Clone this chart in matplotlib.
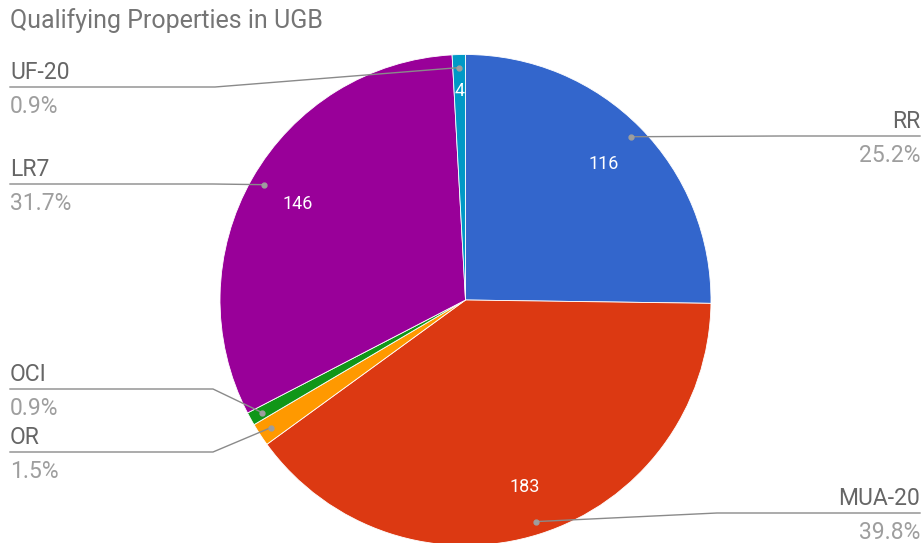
import numpy as np
import matplotlib.pyplot as plt

plt.rcParams['font.family'] = ['Roboto', 'DejaVu Sans']

title = 'Qualifying Properties in UGB'
names = ['RR', 'MUA-20', 'OR', 'OCI', 'LR7', 'UF-20']
counts = [116, 183, 7, 4, 146, 4]
colors = ['#3366cc', '#dc3912', '#ff9900', '#109618', '#990099', '#0099c6']

# label layout (pixels): side, y of leader line, elbow x, inside-label radius (None = hidden)
side = ['right', 'right', 'left', 'left', 'left', 'left']
line_y = [136, 513, 452, 389, 184, 87]
elbow_x = [780, 717, 213, 213, 213, 215]
inner_r = [0.79, 0.80, None, None, 0.786, 0.85]

W, H = 923, 543
fig = plt.figure(figsize=(W / 100, H / 100), dpi=100)

cx, cy, R = 465.5, 300, 245.5
ax = fig.add_axes([(cx - R) / W, (H - cy - R) / H, 2 * R / W, 2 * R / H])
wedges, _ = ax.pie(counts, colors=colors, startangle=90, counterclock=False,
                   radius=1, wedgeprops=dict(linewidth=0.6, edgecolor='white'))
ax.set_xlim(-1, 1)
ax.set_ylim(-1, 1)
ax.set_aspect('equal')
ax.axis('off')

lay = fig.add_axes([0, 0, 1, 1])
lay.set_xlim(0, W)
lay.set_ylim(H, 0)
lay.axis('off')

fig.canvas.draw()
to_lay = ax.transData + lay.transData.inverted()

total = sum(counts)
for i, w in enumerate(wedges):
    mid = np.deg2rad((w.theta1 + w.theta2) / 2)
    px, py = to_lay.transform((0.947 * np.cos(mid), 0.947 * np.sin(mid)))
    if side[i] == 'right':
        xs = [px, elbow_x[i], 920]
        tx, ha = 920, 'right'
    else:
        xs = [px, elbow_x[i], 10]
        tx, ha = 10, 'left'
    lay.plot(xs, [py, line_y[i], line_y[i]], color='#8a8a8a', lw=1, zorder=3)
    lay.plot(px, py, 'o', ms=3.5, color='#9e9e9e', zorder=4)
    lay.text(tx, line_y[i] - 8, names[i], ha=ha, va='baseline', fontsize=16.5, color='#666666')
    lay.text(tx, line_y[i] + 26, f'{100 * counts[i] / total:.1f}%', ha=ha, va='baseline',
             fontsize=16.5, color='#9e9e9e')
    if inner_r[i] is not None:
        ix, iy = inner_r[i] * np.cos(mid), inner_r[i] * np.sin(mid)
        ax.text(ix, iy, str(counts[i]), ha='center', va='center', fontsize=13, color='white')

lay.text(10, 28, title, ha='left', va='baseline', fontsize=18, color='#757575')

fig.savefig('out.png', dpi=100)
